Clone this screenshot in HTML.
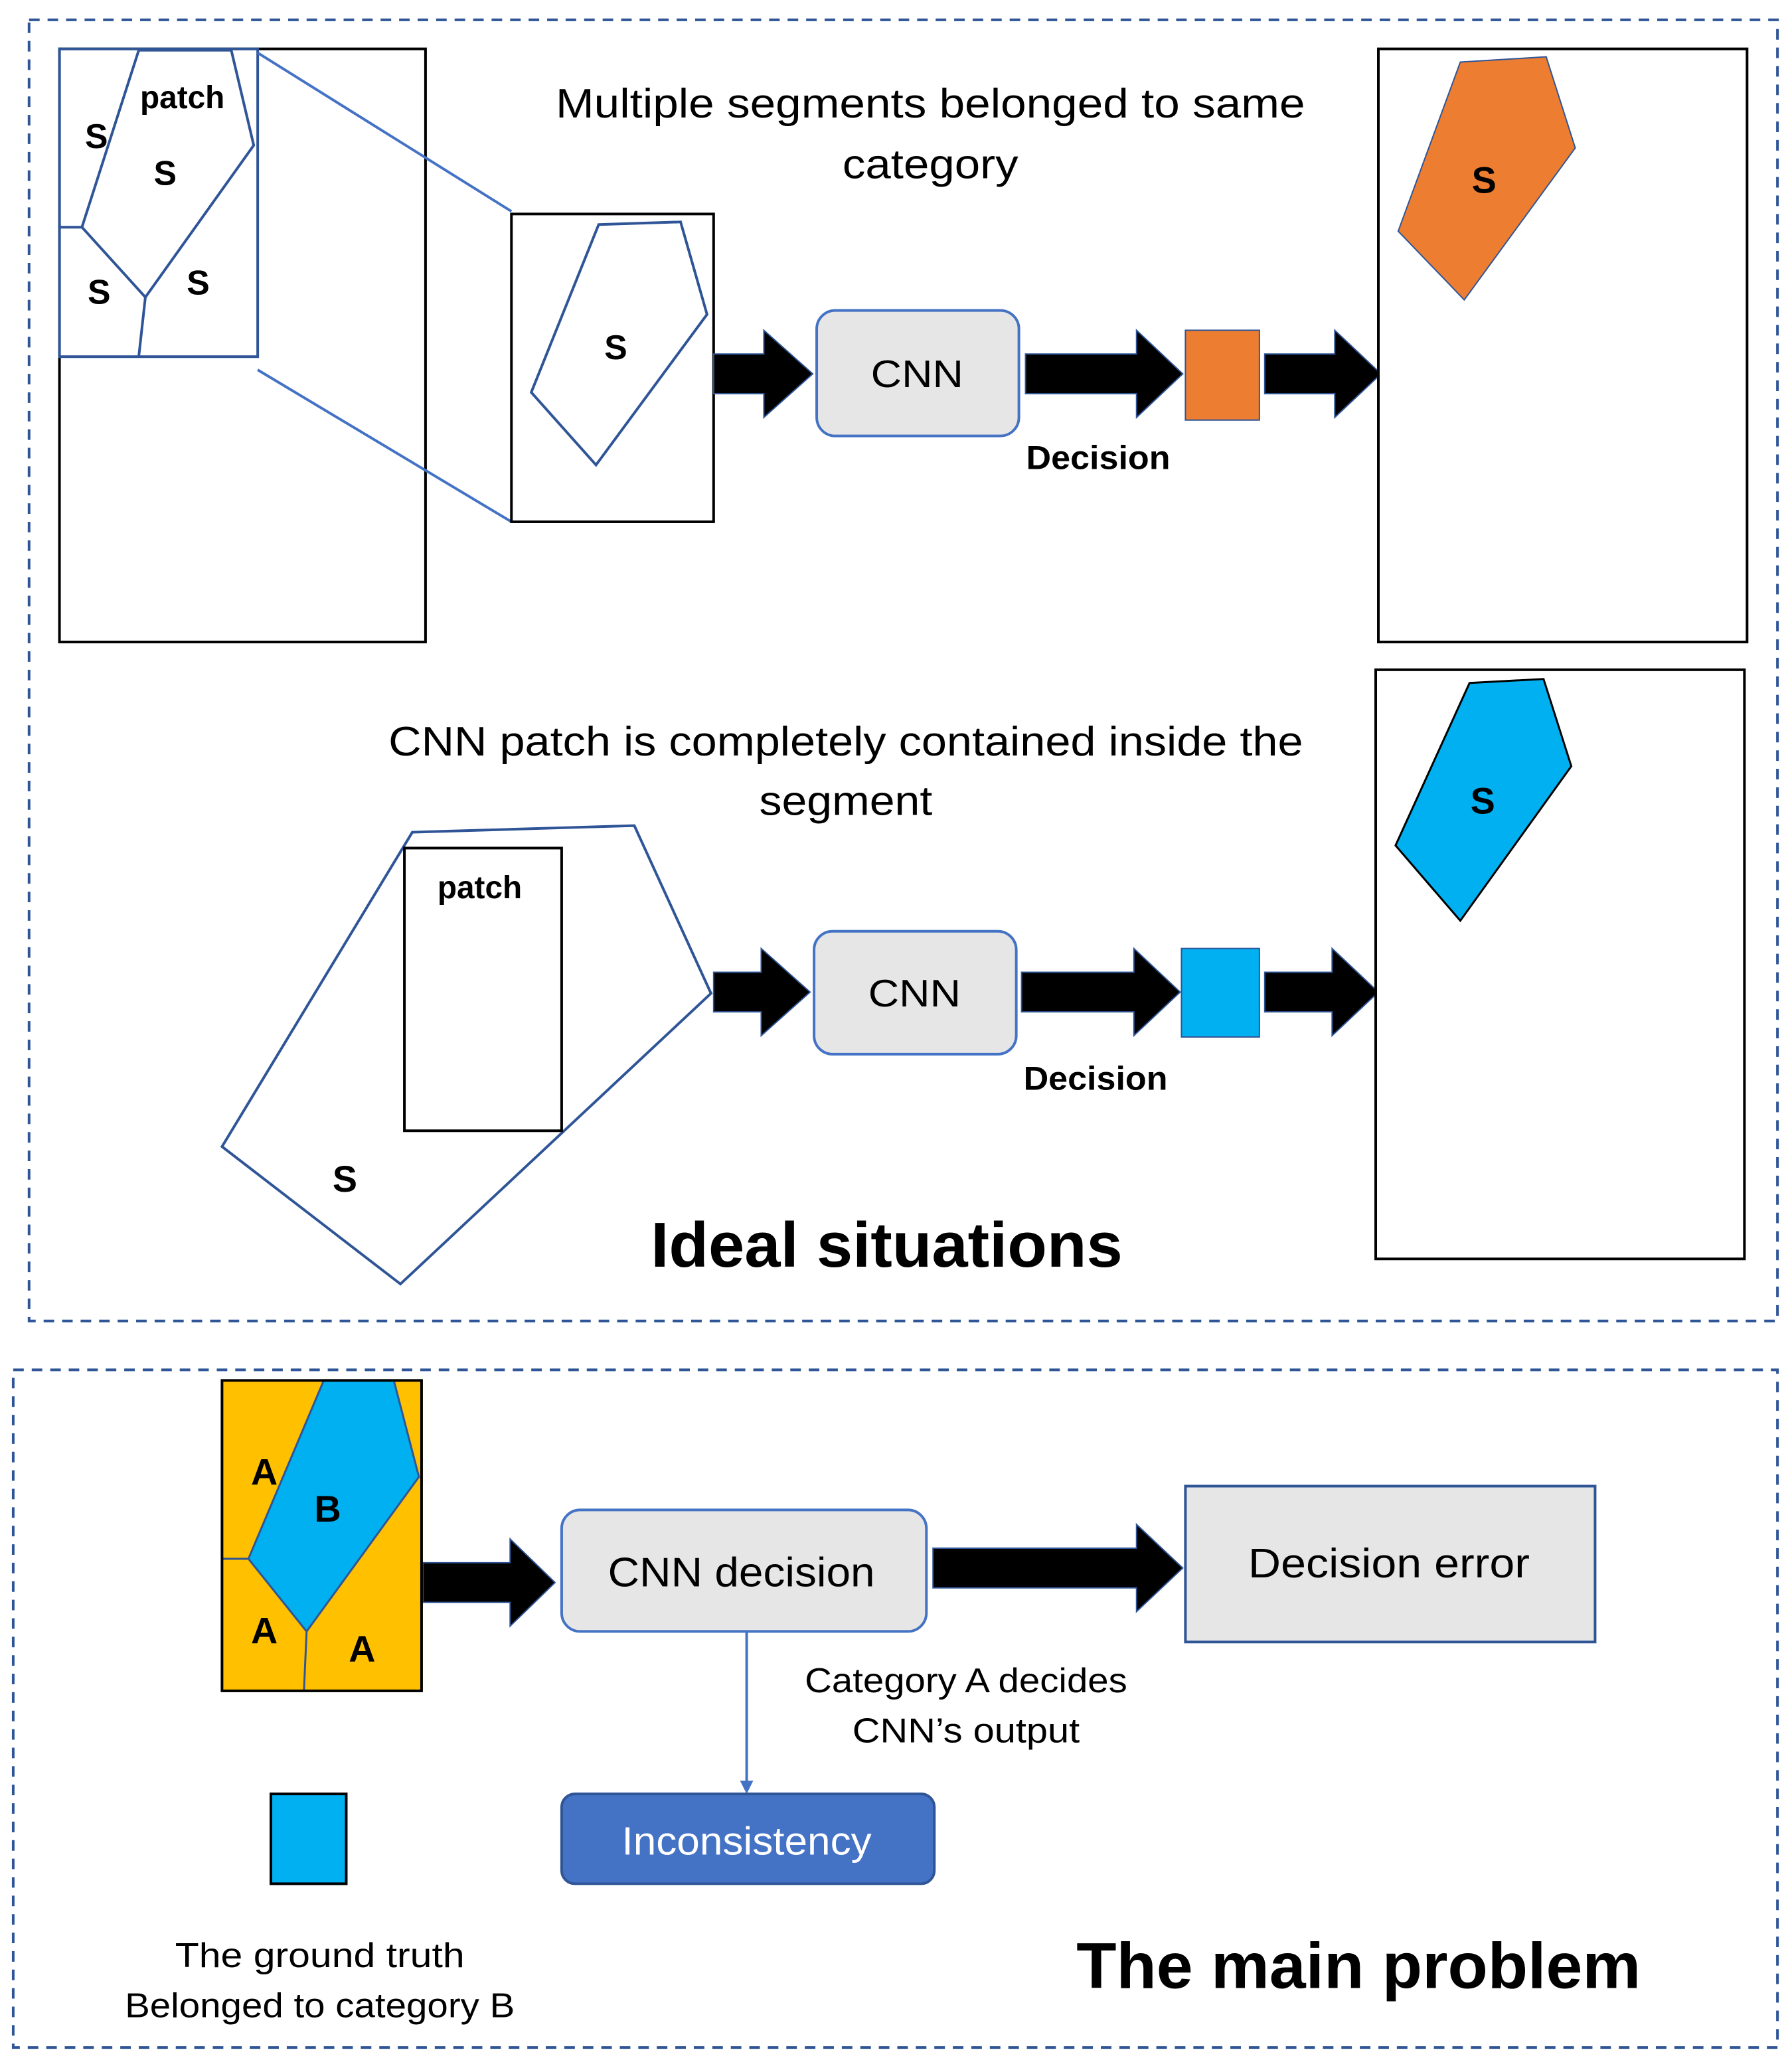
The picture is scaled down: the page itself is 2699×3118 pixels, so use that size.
<!DOCTYPE html>
<html><head><meta charset="utf-8"><style>
html,body{margin:0;padding:0;background:#fff;}
svg{display:block;}
text{font-family:"Liberation Sans",sans-serif;}
</style></head><body>
<svg width="2699" height="3118" viewBox="0 0 1356 1567" preserveAspectRatio="none" xmlns="http://www.w3.org/2000/svg">
<defs>
<marker id="ah" markerWidth="10" markerHeight="10" refX="8" refY="5" orient="auto" markerUnits="userSpaceOnUse"><path d="M0,0 L10,5 L0,10 z" fill="#4472C4"/></marker>
</defs>
<rect x="22" y="15" width="1323" height="985" fill="none" stroke="#2F5597" stroke-width="2" stroke-dasharray="8,6"/>
<rect x="10" y="1037" width="1335" height="513" fill="none" stroke="#2F5597" stroke-width="2" stroke-dasharray="8,6"/>

<rect x="45" y="37" width="277" height="449" fill="#fff" stroke="#000" stroke-width="2"/>
<g fill="none" stroke="#2F5597" stroke-width="2">
<rect x="45" y="37" width="150" height="233"/>
<polygon points="105,38 175,38 192,110 110,225 62,172"/>
<polyline points="62,172 45,172"/>
<polyline points="110,225 105,270"/>
<line x1="195" y1="40" x2="387" y2="160" stroke="#4472C4"/>
<line x1="195" y1="280" x2="387" y2="395" stroke="#4472C4"/>
</g>
<g font-weight="bold" font-size="26" text-anchor="middle">
<text x="138" y="82" font-size="24">patch</text>
<text x="73" y="112">S</text>
<text x="125" y="140">S</text>
<text x="75" y="230">S</text>
<text x="150" y="223">S</text>
</g>
<rect x="387" y="162" width="153" height="233" fill="#fff" stroke="#000" stroke-width="2"/>
<polygon points="453,170 515,168 535,238 451,352 402,297" fill="none" stroke="#2F5597" stroke-width="2"/>
<text x="466" y="272" font-weight="bold" font-size="26" text-anchor="middle">S</text>

<g fill="#000" stroke="#2F5597" stroke-width="1">
<polygon points="540,268 578,268 578,250 615,283 578,316 578,298 540,298"/>
<polygon points="776,268 860,268 860,250 895,283 860,316 860,298 776,298"/>
<polygon points="957,268 1010,268 1010,250 1045,283 1010,316 1010,298 957,298"/>
<polygon points="540,736 576,736 576,718 613,751 576,784 576,766 540,766"/>
<polygon points="773,736 858,736 858,718 893,751 858,784 858,766 773,766"/>
<polygon points="957,736 1008,736 1008,718 1043,751 1008,784 1008,766 957,766"/>
<polygon points="320,1183 386,1183 386,1165 420,1198 386,1231 386,1213 320,1213"/>
<polygon points="706,1172 860,1172 860,1154 895,1187 860,1220 860,1202 706,1202"/>
</g>

<rect x="618" y="235" width="153" height="95" rx="14" fill="#E7E6E6" stroke="#4472C4" stroke-width="2"/>
<text x="694" y="293" font-size="29" text-anchor="middle" textLength="70" lengthAdjust="spacingAndGlyphs">CNN</text>
<rect x="897" y="250" width="56" height="68" fill="#ED7D31" stroke="#2F5597" stroke-width="1"/>
<text x="831" y="355" font-weight="bold" font-size="25" text-anchor="middle" textLength="109" lengthAdjust="spacingAndGlyphs">Decision</text>
<rect x="1043" y="37" width="279" height="449" fill="#fff" stroke="#000" stroke-width="2"/>
<polygon points="1105,47 1170,43 1192,112 1108,227 1058,175" fill="#ED7D31" stroke="#2F5597" stroke-width="1"/>
<text x="1123" y="146" font-weight="bold" font-size="28" text-anchor="middle">S</text>
<text x="704" y="89" font-size="31" text-anchor="middle" textLength="567" lengthAdjust="spacingAndGlyphs">Multiple segments belonged to same</text>
<text x="704" y="135" font-size="31" text-anchor="middle" textLength="133" lengthAdjust="spacingAndGlyphs">category</text>

<text x="640" y="572" font-size="31" text-anchor="middle" textLength="692" lengthAdjust="spacingAndGlyphs">CNN patch is completely contained inside the</text>
<text x="640" y="617" font-size="31" text-anchor="middle" textLength="131" lengthAdjust="spacingAndGlyphs">segment</text>
<polygon points="312,630 480,625 538,752 303,972 168,868" fill="none" stroke="#2F5597" stroke-width="2"/>
<rect x="306" y="642" width="119" height="214" fill="#fff" stroke="#000" stroke-width="2"/>
<text x="363" y="680" font-weight="bold" font-size="24" text-anchor="middle">patch</text>
<text x="261" y="902" font-weight="bold" font-size="28" text-anchor="middle">S</text>
<rect x="616" y="705" width="153" height="93" rx="14" fill="#E7E6E6" stroke="#4472C4" stroke-width="2"/>
<text x="692" y="762" font-size="29" text-anchor="middle" textLength="70" lengthAdjust="spacingAndGlyphs">CNN</text>
<rect x="894" y="718" width="59" height="67" fill="#00B0F0" stroke="#2F5597" stroke-width="1"/>
<text x="829" y="825" font-weight="bold" font-size="25" text-anchor="middle" textLength="109" lengthAdjust="spacingAndGlyphs">Decision</text>
<rect x="1041" y="507" width="279" height="446" fill="#fff" stroke="#000" stroke-width="2"/>
<polygon points="1112,517 1168,514 1189,580 1105,697 1056,640" fill="#00B0F0" stroke="#000" stroke-width="1.5"/>
<text x="1122" y="616" font-weight="bold" font-size="28" text-anchor="middle">S</text>
<text x="671" y="959" font-weight="bold" font-size="48" text-anchor="middle" textLength="357" lengthAdjust="spacingAndGlyphs">Ideal situations</text>

<rect x="168" y="1045" width="151" height="235" fill="#FFC000"/>
<polygon points="245,1045 298,1045 317,1118 232,1235 188,1180" fill="#00B0F0" stroke="#2F5597" stroke-width="1.5"/>
<g fill="none" stroke="#2F5597" stroke-width="1.5">
<line x1="232" y1="1235" x2="230" y2="1280"/>
<line x1="168" y1="1180" x2="188" y2="1180"/>
</g>
<rect x="168" y="1045" width="151" height="235" fill="none" stroke="#000" stroke-width="2"/>
<g font-weight="bold" font-size="28" text-anchor="middle">
<text x="200" y="1124">A</text>
<text x="248" y="1152">B</text>
<text x="200" y="1244">A</text>
<text x="274" y="1258">A</text>
</g>
<rect x="425" y="1143" width="276" height="92" rx="14" fill="#E7E6E6" stroke="#4472C4" stroke-width="2"/>
<text x="561" y="1201" font-size="31" text-anchor="middle" textLength="202" lengthAdjust="spacingAndGlyphs">CNN decision</text>
<rect x="897" y="1125" width="310" height="118" fill="#E7E6E6" stroke="#2F5597" stroke-width="2"/>
<text x="1051" y="1194" font-size="31" text-anchor="middle" textLength="213" lengthAdjust="spacingAndGlyphs">Decision error</text>
<line x1="565" y1="1235" x2="565" y2="1356" stroke="#4472C4" stroke-width="2" marker-end="url(#ah)"/>
<rect x="425" y="1358" width="282" height="68" rx="10" fill="#4472C4" stroke="#2F5597" stroke-width="2"/>
<text x="565" y="1404" font-size="30" fill="#fff" text-anchor="middle" textLength="189" lengthAdjust="spacingAndGlyphs">Inconsistency</text>
<text x="731" y="1281" font-size="26" text-anchor="middle" textLength="244" lengthAdjust="spacingAndGlyphs">Category A decides</text>
<text x="731" y="1319" font-size="26" text-anchor="middle" textLength="172" lengthAdjust="spacingAndGlyphs">CNN’s output</text>
<rect x="205" y="1358" width="57" height="68" fill="#00B0F0" stroke="#000" stroke-width="2"/>
<text x="242" y="1489" font-size="26" text-anchor="middle" textLength="219" lengthAdjust="spacingAndGlyphs">The ground truth</text>
<text x="242" y="1527" font-size="26" text-anchor="middle" textLength="295" lengthAdjust="spacingAndGlyphs">Belonged to category B</text>
<text x="1028" y="1505" font-weight="bold" font-size="49" text-anchor="middle" textLength="427" lengthAdjust="spacingAndGlyphs">The main problem</text>
</svg>
</body></html>
